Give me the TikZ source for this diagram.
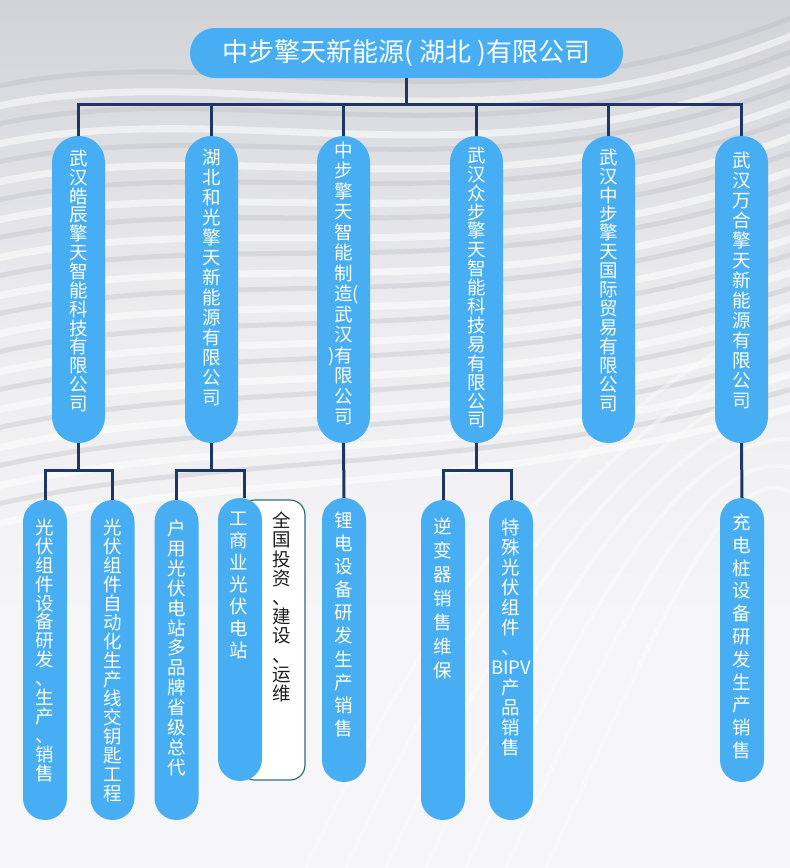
\documentclass[tikz,border=0pt]{standalone}
\usepackage{fontspec}
\newfontfamily\cjk{Noto Sans CJK SC}
\usetikzlibrary{calc}
\definecolor{pillblue}{HTML}{47AEF3}
\definecolor{linenavy}{HTML}{1C3767}
\definecolor{boxteal}{HTML}{2F6F7A}
\definecolor{bgtop}{HTML}{D2D3D7}
\definecolor{bgmid}{HTML}{ECECEF}
\definecolor{bgbot}{HTML}{F6F6F8}
\definecolor{wavegray}{HTML}{B4B5BA}
\definecolor{boxtext}{HTML}{1E1E1E}
\newcommand\vtx[5]{\node[vtxt, font=\cjk\fontsize{18.5}{#4}\selectfont] (#1) at (#2,#3-8.3) {#5};}
\newcommand\vtxk[5]{\node[vtxt, text=boxtext, font=\cjk\fontsize{18.5}{#4}\selectfont] (#1) at (#2,#3-8.3) {#5};}
\begin{document}
\begin{tikzpicture}[x=1pt,y=-1pt,
  conn/.style={draw=linenavy, line width=3pt},
  pilltop/.style={fill=pillblue, inner sep=0pt, minimum width=433pt, minimum height=50pt, rounded corners=24.9pt, text=white, font=\cjk\fontsize{26}{30}\selectfont},
  pillA/.style={fill=pillblue, inner sep=0pt, minimum width=53pt, minimum height=307pt, rounded corners=26.3pt},
  pillB/.style={fill=pillblue, inner sep=0pt, minimum width=44pt, rounded corners=21.9pt},
  svcbox/.style={draw=boxteal, line width=1.2pt, fill=white, inner sep=0pt, rounded corners=15pt},
  vtxt/.style={anchor=north, inner sep=0pt, align=center, text=white},
  wave/.style={white, line width=7pt, opacity=0.55},
  gwave/.style={wavegray, line width=5pt, opacity=0.3}]
\useasboundingbox (0,0) rectangle (790,868);
% background
\shade[top color=bgtop, bottom color=bgbot, middle color=bgmid] (0,0) rectangle (790,620);
\fill[bgbot] (0,620) rectangle (790,868);
\foreach \i in {0,...,11} {
  \draw[gwave] (-20,90+\i*38) .. controls (230,30+\i*38) and (480,150+\i*30) .. (810,10+\i*34);
  \draw[wave] (-20,110+\i*38) .. controls (230,50+\i*38) and (480,170+\i*30) .. (810,28+\i*34);
}
\foreach \i in {0,...,6} {
  \draw[wave, line width=4pt, opacity=0.4] (300+\i*40,880) .. controls (420+\i*40,620) and (560+\i*30,420) .. (810,300+\i*35);
}
% top
\node[pilltop] (top) at (406.5,53) {中步擎天新能源( 湖北 )有限公司};
% level 1
\node[pillA] (c1) at (78.5,289.5) {};
\node[pillA] (c2) at (211.5,289.5) {};
\node[pillA] (c3) at (343.5,289.5) {};
\node[pillA] (c4) at (476.5,289.5) {};
\node[pillA] (c5) at (608.5,289.5) {};
\node[pillA] (c6) at (741.5,289.5) {};
\vtx{t1}{78.5}{158}{18.85}{武\\汉\\皓\\辰\\擎\\天\\智\\能\\科\\技\\有\\限\\公\\司}
\vtx{t2}{211.5}{157}{20}{湖\\北\\和\\光\\擎\\天\\新\\能\\源\\有\\限\\公\\司}
\vtx{t3}{343.5}{150}{20.5}{中\\步\\擎\\天\\智\\能\\制\\造\rlap{(}\\武\\汉\\\llap{)}有\\限\\公\\司}
\vtx{t4}{476.5}{155}{18.9}{武\\汉\\众\\步\\擎\\天\\智\\能\\科\\技\\易\\有\\限\\公\\司}
\vtx{t5}{608.5}{157}{18.9}{武\\汉\\中\\步\\擎\\天\\国\\际\\贸\\易\\有\\限\\公\\司}
\vtx{t6}{741.5}{160}{20}{武\\汉\\万\\合\\擎\\天\\新\\能\\源\\有\\限\\公\\司}
% level 2
\node[svcbox, minimum width=65pt, minimum height=280pt] (box) at (272.5,640) {};
\node[pillB, minimum height=320pt] (d1) at (45,660) {};
\node[pillB, minimum height=320pt] (d2) at (112.5,660) {};
\node[pillB, minimum height=320pt] (d3) at (176.5,660) {};
\node[pillB, minimum height=283pt] (d4) at (240,639.5) {};
\node[pillB, minimum height=284pt] (d5) at (344,640) {};
\node[pillB, minimum height=320pt] (d6) at (443,660) {};
\node[pillB, minimum height=320pt] (d7) at (511,660) {};
\node[pillB, minimum height=284pt] (d8) at (742,640) {};
\vtx{u1}{45}{527}{18.9}{光\\伏\\组\\件\\设\\备\\研\\发\\、\\生\\产\\、\\销\\售}
\vtx{u2}{112.5}{527}{19}{光\\伏\\组\\件\\自\\动\\化\\生\\产\\线\\交\\钥\\匙\\工\\程}
\vtx{u3}{176.5}{528}{19.9}{户\\用\\光\\伏\\电\\站\\多\\品\\牌\\省\\级\\总\\代}
\vtx{u4}{239}{520}{22}{工\\商\\业\\光\\伏\\电\\站}
\vtxk{ub}{282}{520}{19.2}{全\\国\\投\\资\\、\\建\\设\\、\\运\\维}
\vtx{u5}{344}{520}{23.1}{锂\\电\\设\\备\\研\\发\\生\\产\\销\\售}
\vtx{u6}{443}{526}{24}{逆\\变\\器\\销\\售\\维\\保}
\vtx{u7}{511}{527}{20}{特\\殊\\光\\伏\\组\\件\\、\\BIPV\\产\\品\\销\\售}
\vtx{u8}{742}{522}{22.8}{充\\电\\桩\\设\\备\\研\\发\\生\\产\\销\\售}
% connectors level 1
\coordinate (bus) at (406.5,104);
\draw[conn] (top.south) -- (bus);
\draw[conn] (c1.north) -- (c1.north |- bus) -- (c6.north |- bus) -- (c6.north);
\foreach \c in {c2,c3,c4,c5} \draw[conn] (\c.north |- bus) -- (\c.north);
% connectors level 2
\coordinate (j1) at ($(c1.south)+(0,27)$);
\draw[conn] (c1.south) -- (j1);
\draw[conn] (d1.north) -- (d1.north |- j1) -- (d2.north |- j1) -- (d2.north);
\coordinate (j2) at ($(c2.south)+(0,27)$);
\coordinate (d4top) at ($(d4.north)+(4.5,0)$);
\draw[conn] (c2.south) -- (j2);
\draw[conn] (d3.north) -- (d3.north |- j2) -- (d4top |- j2) -- (d4top);
\draw[conn] (c3.south) -- (d5.north);
\coordinate (j4) at ($(c4.south)+(0,27)$);
\draw[conn] (c4.south) -- (j4);
\draw[conn] (d6.north) -- (d6.north |- j4) -- (d7.north |- j4) -- (d7.north);
\draw[conn] (c6.south) -- (d8.north);
\end{tikzpicture}
\end{document}
